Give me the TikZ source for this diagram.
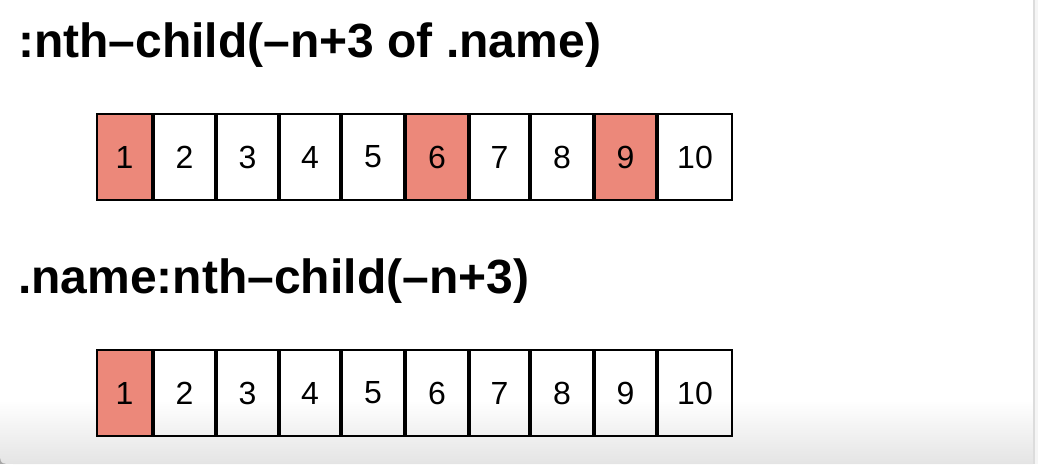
\documentclass[tikz,border=0pt]{standalone}
\usepackage{fontspec}
\setmainfont{Liberation Sans}
\definecolor{hitred}{RGB}{236,136,122}
\definecolor{shadegray}{RGB}{228,228,228}
\definecolor{edgegray}{RGB}{220,220,220}

\begin{document}
\begin{tikzpicture}[x=0.75pt, y=-0.75pt,
  title/.style={anchor=base west, inner sep=0pt, font=\fontsize{36}{40}\selectfont\bfseries},
  cell/.style={draw=black, line width=1.5pt, inner sep=0pt, outer sep=0pt, minimum height=64.5pt, font=\fontsize{24}{28}\selectfont},
  hit/.style={cell, fill=hitred}]
  \useasboundingbox (0,0) rectangle (1038,464);
  \fill[white] (0,0) rectangle (1038,464);
  % window edge and bottom shadow
  \fill[gray!70] (0,436) rectangle (20,464);
  \shade[top color=white, bottom color=shadegray] (0,400) -- (1033,400) -- (1033,464) -- (14,464) .. controls (0,464) .. (0,450) -- cycle;
  \fill[edgegray] (1033,0) rectangle (1038,464);
  \fill[gray!8] (1035,0) rectangle (1038,464);

  \node[title] (t1) at (18,57) {:nth–child(–n+3 of .name)};
  \node[cell, hit, minimum width=41.25pt] (a1) at (124.5,157) {1};
  \node[cell, minimum width=45.75pt] (a2) at (184.5,157) {2};
  \node[cell, minimum width=45.75pt] (a3) at (247.5,157) {3};
  \node[cell, minimum width=45pt] (a4) at (310,157) {4};
  \node[cell, minimum width=46.5pt] (a5) at (373,157) {5};
  \node[cell, hit, minimum width=46.5pt] (a6) at (437,157) {6};
  \node[cell, minimum width=44.25pt] (a7) at (499.5,157) {7};
  \node[cell, minimum width=46.5pt] (a8) at (562,157) {8};
  \node[cell, hit, minimum width=45.75pt] (a9) at (625.5,157) {9};
  \node[cell, minimum width=55.5pt] (a10) at (695,157) {10};

  \node[title] (t2) at (18,293) {.name:nth–child(–n+3)};
  \node[cell, hit, minimum width=41.25pt] (b1) at (124.5,393) {1};
  \node[cell, minimum width=45.75pt] (b2) at (184.5,393) {2};
  \node[cell, minimum width=45.75pt] (b3) at (247.5,393) {3};
  \node[cell, minimum width=45pt] (b4) at (310,393) {4};
  \node[cell, minimum width=46.5pt] (b5) at (373,393) {5};
  \node[cell, minimum width=46.5pt] (b6) at (437,393) {6};
  \node[cell, minimum width=44.25pt] (b7) at (499.5,393) {7};
  \node[cell, minimum width=46.5pt] (b8) at (562,393) {8};
  \node[cell, minimum width=45.75pt] (b9) at (625.5,393) {9};
  \node[cell, minimum width=55.5pt] (b10) at (695,393) {10};
\end{tikzpicture}
\end{document}
